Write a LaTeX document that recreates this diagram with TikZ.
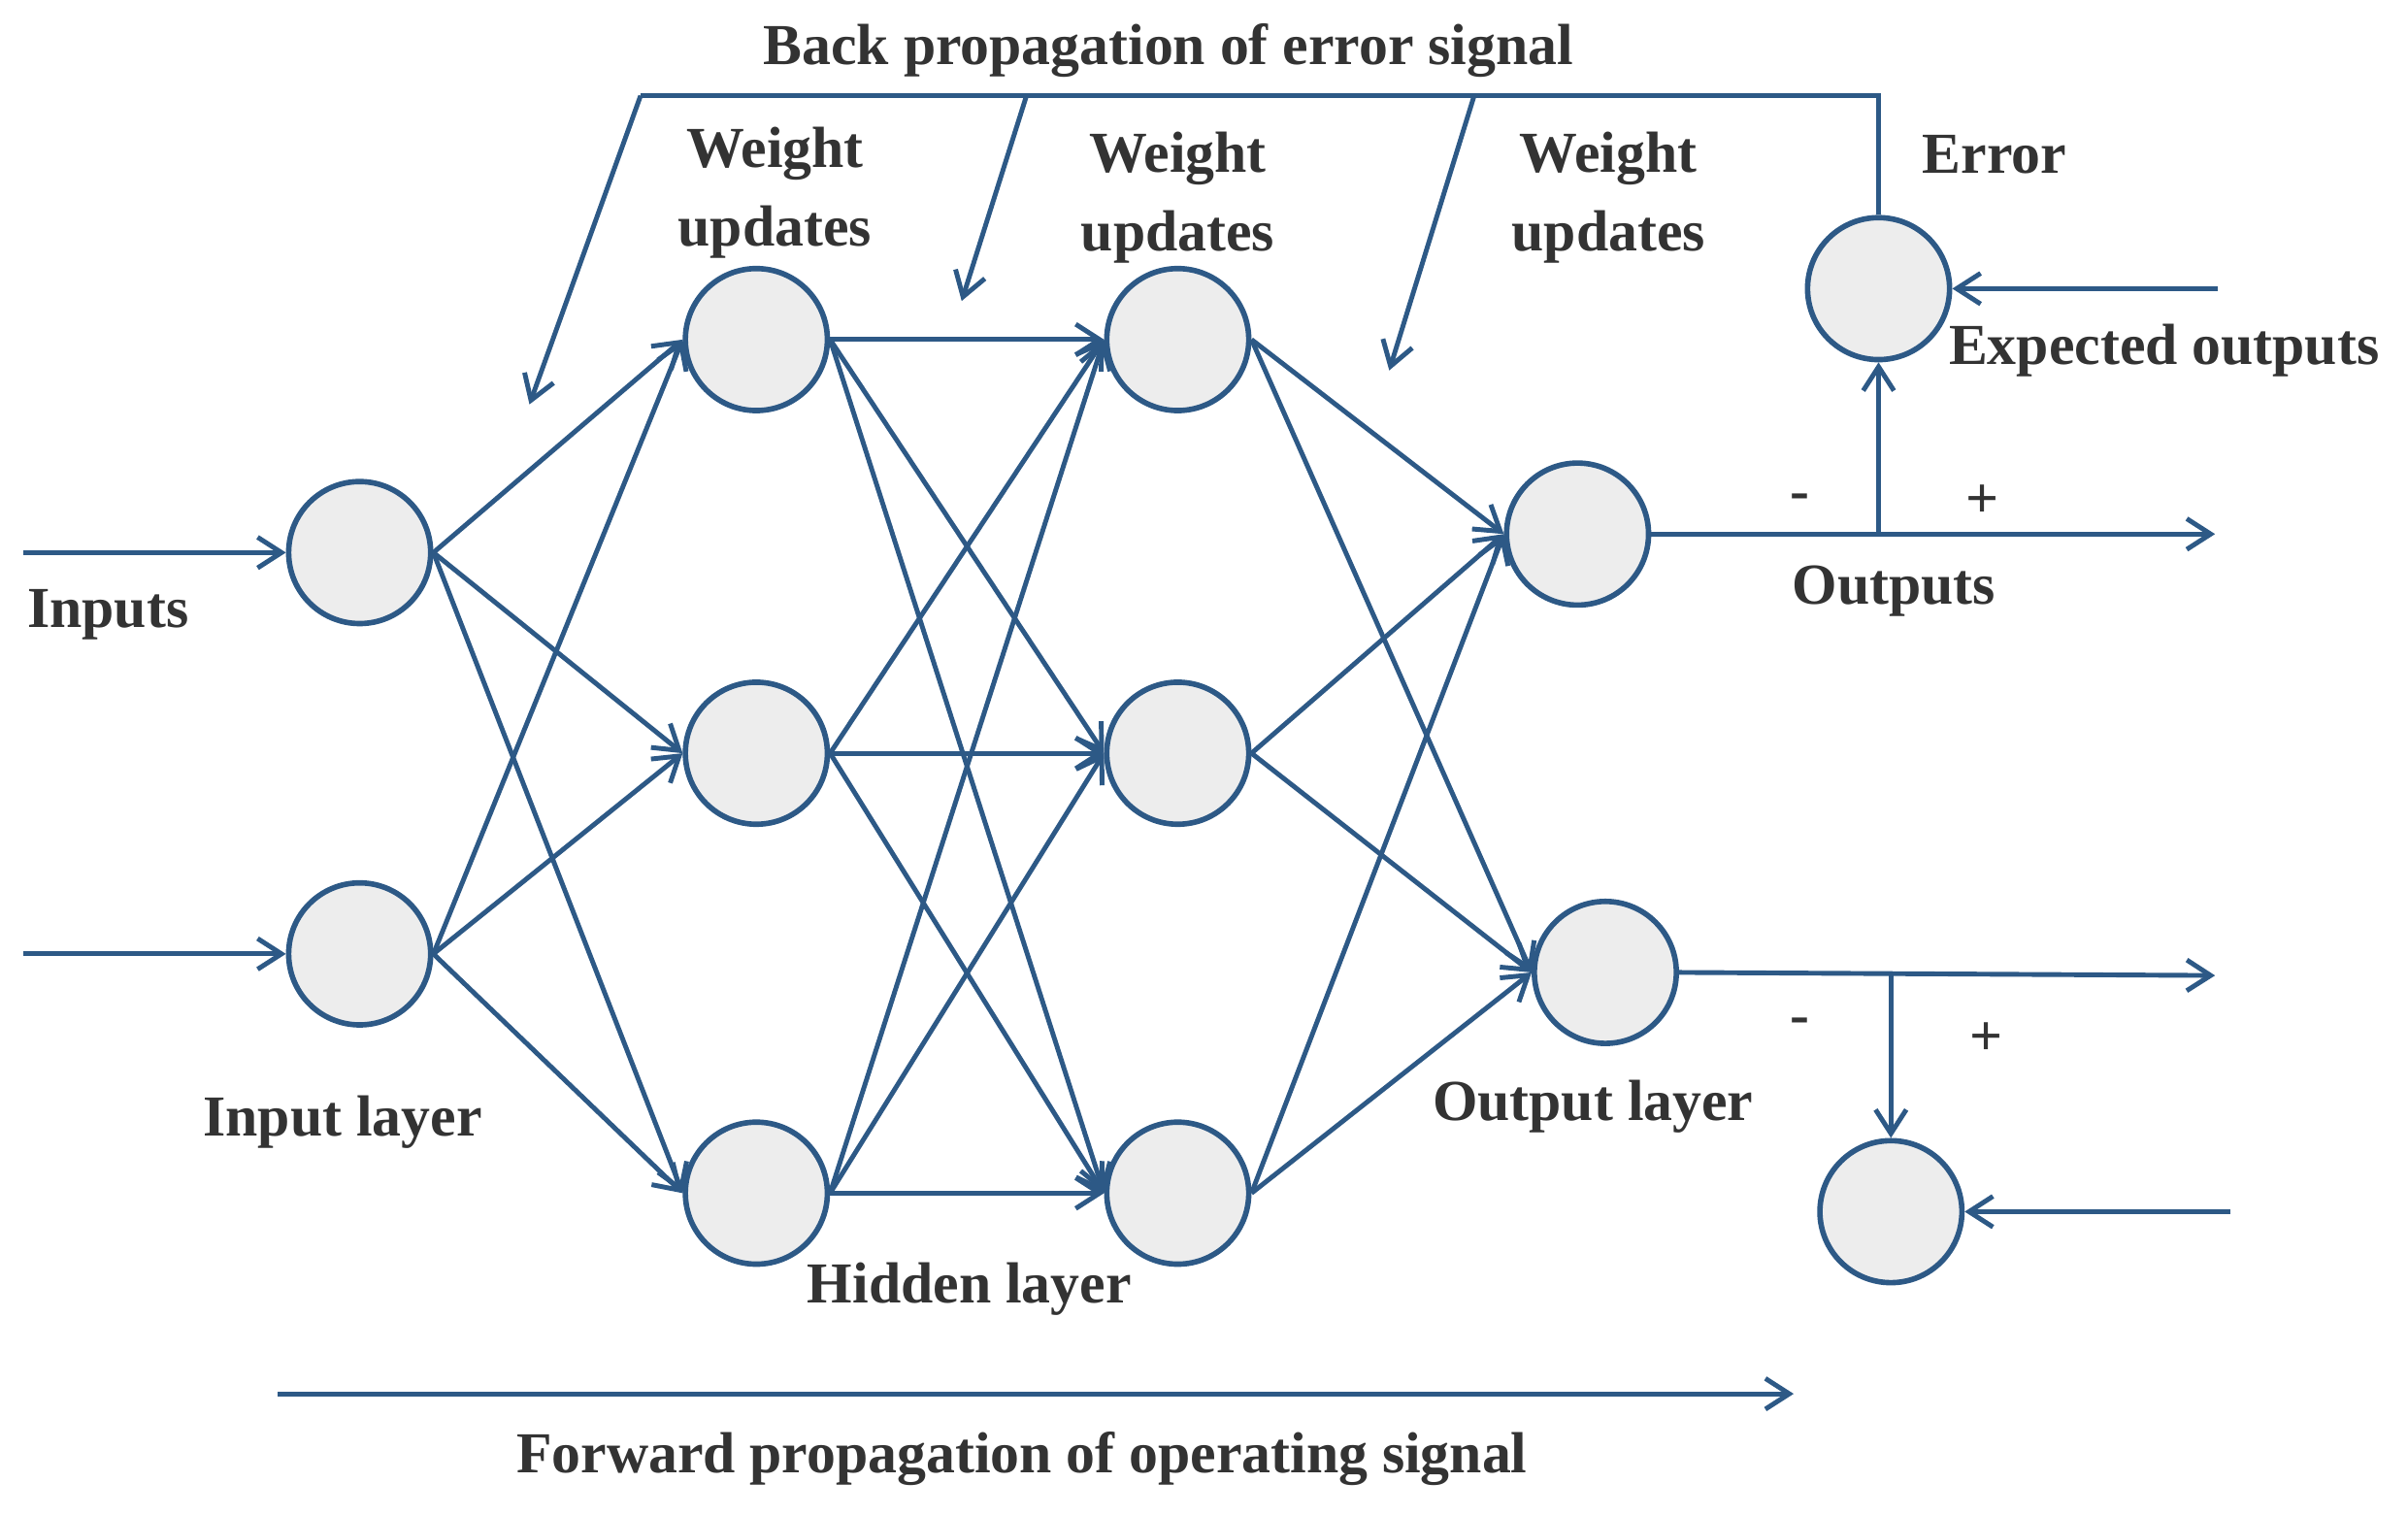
\documentclass[tikz,border=0pt]{standalone}
\usepackage{fontspec}
\setmainfont{Liberation Serif}
\usetikzlibrary{arrows.meta}
\definecolor{ln}{HTML}{2D5986}
\definecolor{tx}{HTML}{333333}
\begin{document}
\begin{tikzpicture}[x=0.0159cm,y=-0.0159cm,
 neu/.style={circle,draw=ln,line width=1.6pt,fill=black!7,minimum size=92*0.0159cm,inner sep=0pt},
 con/.style={draw=ln,line width=1.4pt},
 arr/.style={con,-{Straight Barb[length=7pt,width=9pt,line width=1.4pt]}},
 lab/.style={text=tx,font=\fontsize{17}{19}\selectfont\bfseries,align=center}]
\useasboundingbox (0,0) rectangle (1560,981);
\node[neu] (I1) at (233,358) {};
\node[neu] (I2) at (233,618) {};
\node[neu] (H1) at (490,220) {};
\node[neu] (H2) at (490,488) {};
\node[neu] (H3) at (490,773) {};
\node[neu] (G1) at (763,220) {};
\node[neu] (G2) at (763,488) {};
\node[neu] (G3) at (763,773) {};
\node[neu] (O1) at (1022,346) {};
\node[neu] (O2) at (1040,630) {};
\node[neu] (E1) at (1217,187) {};
\node[neu] (E2) at (1225,785) {};
\foreach \a in {I1,I2}{\foreach \b in {H1,H2,H3}{\draw[arr] (\a.east) -- (\b.west);}}
\foreach \a in {H1,H2,H3}{\foreach \b in {G1,G2,G3}{\draw[arr] (\a.east) -- (\b.west);}}
\foreach \a in {G1,G2,G3}{\foreach \b in {O1,O2}{\draw[arr] (\a.east) -- (\b.west);}}
\coordinate (in1) at (15,358); \coordinate (in2) at (15,618);
\draw[arr] (in1) -- (I1); \draw[arr] (in2) -- (I2);
\coordinate (o1e) at (1435,346); \coordinate (j1) at (1217,346);
\coordinate (o2e) at (1435,632); \coordinate (j2) at (1225,632);
\draw[arr] (O1) -- (o1e); \draw[arr] (j1) -- (E1);
\draw[arr] (O2.east) -- (o2e); \draw[arr] (j2) -- (E2);
\coordinate (x1) at (1437,187); \coordinate (x2) at (1445,785);
\draw[arr] (x1) -- (E1); \draw[arr] (x2) -- (E2);
\coordinate (t1) at (1217,62); \coordinate (t0) at (415,62);
\coordinate (t2) at (665,62); \coordinate (t3) at (955,62);
\coordinate (b1) at (343,262); \coordinate (b2) at (623,195); \coordinate (b3) at (900,240);
\draw[con] (E1) -- (t1) -- (t0);
\draw[arr] (t0) -- (b1); \draw[arr] (t2) -- (b2); \draw[arr] (t3) -- (b3);
\coordinate (f0) at (180,903); \coordinate (f1) at (1162,903);
\draw[arr] (f0) -- (f1);
\node[lab] at (757,33) {Back propagation of error signal};
\node[lab] at (502,125) {Weight\\[4pt]updates};
\node[lab] at (763,128) {Weight\\[4pt]updates};
\node[lab] at (1042,128) {Weight\\[4pt]updates};
\node[lab] at (1292,100) {Error};
\node[lab] at (1402,227) {Expected outputs};
\node[lab] at (1166,325) {-};
\node[lab] at (1284,325) {+};
\node[lab] at (1227,383) {Outputs};
\node[lab] at (1166,665) {-};
\node[lab] at (1287,673) {+};
\node[lab] at (70,398) {Inputs};
\node[lab] at (222,727) {Input layer};
\node[lab] at (628,835) {Hidden layer};
\node[lab] at (1032,717) {Output layer};
\node[lab] at (662,945) {Forward propagation of operating signal};
\end{tikzpicture}
\end{document}
